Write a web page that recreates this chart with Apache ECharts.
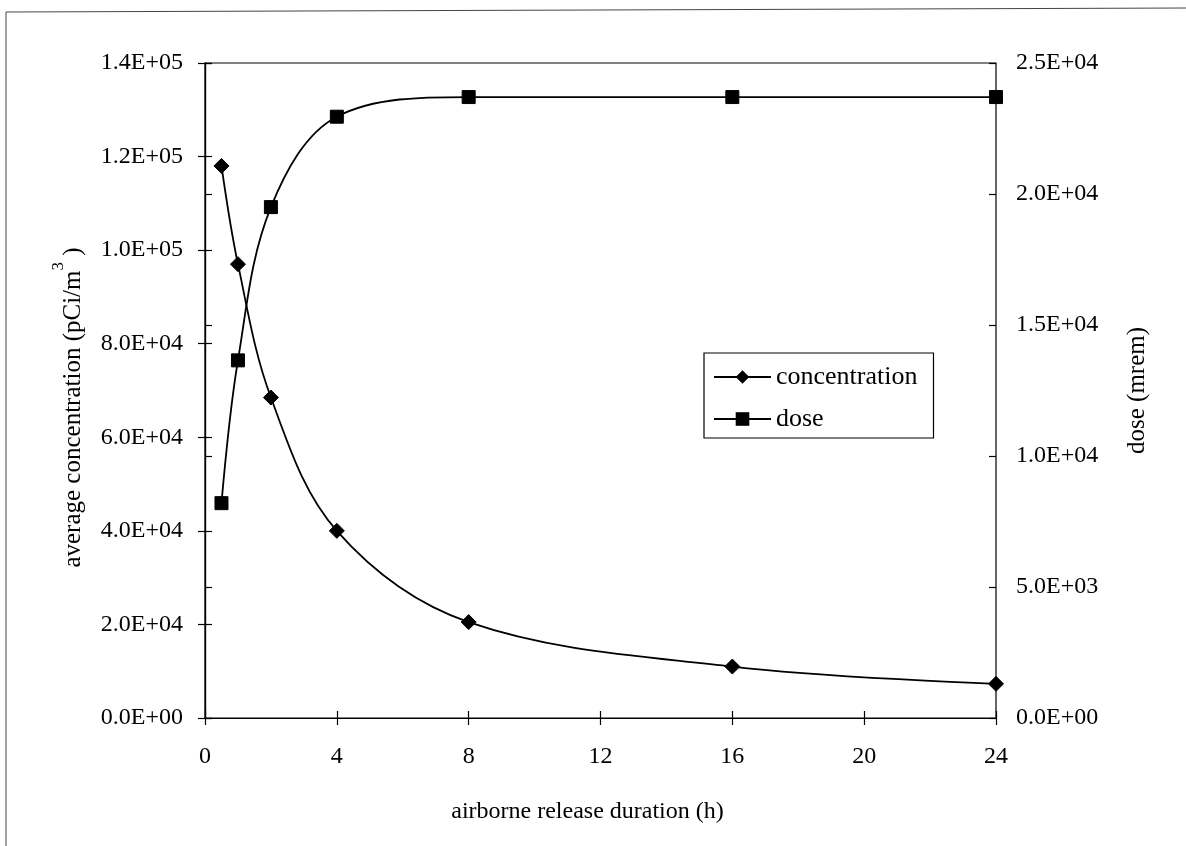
<!DOCTYPE html>
<html>
<head>
<meta charset="utf-8">
<script src="https://cdn.jsdelivr.net/npm/echarts@6/dist/echarts.min.js"></script>
<style>
html,body{margin:0;padding:0;background:#fff;}
#chart{width:1186px;height:846px;}
</style>
</head>
<body>
<div id="chart"></div>
<script>
// Data
var durations = [0.5, 1, 2, 4, 8, 16, 24];            // airborne release duration (h)
var concentration = [118000, 97000, 68500, 40000, 20500, 11000, 7300]; // pCi/m3
var dose = [8200, 13650, 19500, 22950, 23700, 23700, 23700];           // mrem
var xTicks = {min: 0, max: 24, interval: 4};
var leftTicks = {min: 0, max: 140000, interval: 20000};
var rightTicks = {min: 0, max: 25000, interval: 5000};

function sci(v) {
  if (v === 0) return '0.0E+00';
  var e = Math.floor(Math.log10(Math.abs(v)) + 1e-9);
  var m = v / Math.pow(10, e);
  return m.toFixed(1) + 'E+' + (e < 10 ? '0' + e : e);
}

var FONT = '"Liberation Serif", "Times New Roman", serif';
var chart = echarts.init(document.getElementById('chart'));

function pairs(xs, ys) { return xs.map(function (x, i) { return [x, ys[i]]; }); }

var axisTxt = {color: '#000', fontFamily: FONT, fontSize: 24};
var tick = {show: true, length: 7, lineStyle: {color: '#000', width: 1.2}};

function innerTicks(base, extra) {
  return Object.assign({
    type: 'value',
    min: base.min, max: base.max, interval: base.interval,
    axisLine: {show: false},
    axisTick: {show: true, inside: true, length: 7, lineStyle: {color: '#000', width: 1.2}},
    axisLabel: {show: false},
    splitLine: {show: false}
  }, extra);
}

chart.setOption({
  backgroundColor: '#fff',
  animation: false,
  textStyle: {fontFamily: FONT, color: '#000'},
  grid: {left: 205, right: 190, top: 63, bottom: 128, show: true, borderColor: '#000', borderWidth: 1.2},
  graphic: [{
    type: 'polyline',
    shape: {points: [[6, 846], [6, 12], [1186, 8]]},
    style: {stroke: '#444', lineWidth: 1, fill: null}
  }],
  legend: {
    left: 704, top: 353,
    orient: 'vertical',
    backgroundColor: '#fff',
    borderColor: '#000', borderWidth: 1.2,
    padding: [10, 16, 5, 9],
    itemWidth: 57, itemHeight: 17, itemGap: 14,
    textStyle: {fontFamily: FONT, fontSize: 26, color: '#000', lineHeight: 28},
    data: ['concentration', 'dose']
  },
  xAxis: [{
    type: 'value',
    min: xTicks.min, max: xTicks.max, interval: xTicks.interval,
    name: 'airborne release duration (h)',
    nameLocation: 'middle', nameGap: 82,
    nameTextStyle: {fontFamily: FONT, fontSize: 24, color: '#000', padding: [0, 26, 0, 0]},
    axisLine: {lineStyle: {color: '#000', width: 1.2}},
    axisTick: tick,
    axisLabel: Object.assign({margin: 27}, axisTxt),
    splitLine: {show: false}
  }, innerTicks(xTicks, {position: 'bottom'})],
  yAxis: [{
    type: 'value',
    min: leftTicks.min, max: leftTicks.max, interval: leftTicks.interval,
    name: 'average concentration (pCi/m{s|3} )',
    nameLocation: 'middle', nameGap: 108,
    nameTextStyle: {
      fontFamily: FONT, fontSize: 25, color: '#000', padding: [0, 34, 0, 0],
      rich: {s: {fontFamily: FONT, fontSize: 17, color: '#000', padding: [0, 0, 30, 0]}}
    },
    axisLine: {show: true, lineStyle: {color: '#000', width: 1.2}},
    axisTick: tick,
    axisLabel: Object.assign({margin: 22, formatter: sci}, axisTxt),
    splitLine: {show: false}
  }, {
    type: 'value',
    position: 'right',
    min: rightTicks.min, max: rightTicks.max, interval: rightTicks.interval,
    name: 'dose (mrem)',
    nameLocation: 'middle', nameGap: 129,
    nameTextStyle: {fontFamily: FONT, fontSize: 25, color: '#000'},
    axisLine: {show: true, lineStyle: {color: '#000', width: 1.2}},
    axisTick: tick,
    axisLabel: Object.assign({margin: 20, formatter: sci}, axisTxt),
    splitLine: {show: false}
  }, innerTicks(leftTicks, {position: 'left'}),
     innerTicks(rightTicks, {position: 'right'})],
  series: [{
    name: 'concentration',
    type: 'line',
    yAxisIndex: 0,
    data: pairs(durations, concentration),
    smooth: 0.35,
    symbol: 'diamond', symbolSize: 15,
    lineStyle: {color: '#000', width: 1.8},
    itemStyle: {color: '#000', borderColor: '#000'}
  }, {
    name: 'dose',
    type: 'line',
    yAxisIndex: 1,
    data: pairs(durations, dose),
    smooth: 0.35,
    symbol: 'rect', symbolSize: 13,
    lineStyle: {color: '#000', width: 1.8},
    itemStyle: {color: '#000', borderColor: '#000'}
  }]
});
</script>
</body>
</html>
